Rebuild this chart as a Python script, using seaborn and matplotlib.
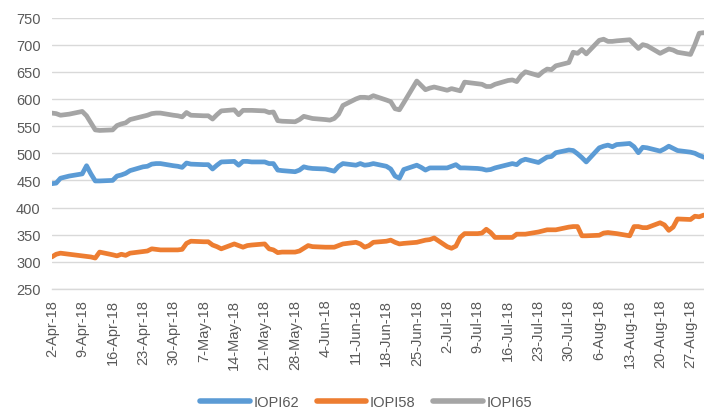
import numpy as np
import pandas as pd
import matplotlib
matplotlib.use("Agg")
import matplotlib.pyplot as plt
import matplotlib.dates as mdates
import seaborn as sns

# ---- data (business days, offset in days from 2-Apr-2018) ----
day_offsets = [0, 1, 2, 3, 4, 7, 8, 9, 10, 11, 14, 15, 16, 17, 18, 21, 22, 23, 24, 25,
               28, 29, 30, 31, 32, 35, 36, 37, 38, 39, 42, 43, 44, 45, 46, 49, 50, 51, 52, 53,
               56, 57, 58, 59, 60, 63, 64, 65, 66, 67, 70, 71, 72, 73, 74, 77, 78, 79, 80, 81,
               84, 85, 86, 87, 88, 91, 92, 93, 94, 95, 98, 99, 100, 101, 102, 105, 106, 107, 108, 109,
               112, 113, 114, 115, 116, 119, 120, 121, 122, 123, 126, 127, 128, 129, 130, 133, 134, 135, 136, 137,
               140, 141, 142, 143, 144, 147, 148, 149, 150, 151]

iopi62 = [444, 445, 454, 456, 458, 462, 477, 462, 449, 449, 450, 458, 460, 463, 468, 475, 476, 480, 481, 481,
          477, 476, 474, 482, 480, 479, 479, 471, 478, 484, 485, 478, 485, 485, 484, 484, 481, 481, 469, 468,
          466, 469, 475, 473, 472, 471, 469, 467, 476, 481, 478, 481, 478, 479, 481, 476, 471, 458, 454, 470,
          478, 474, 469, 473, 473, 473, 476, 479, 473, 473, 472, 471, 469, 470, 473, 479, 481, 479, 486, 489,
          483, 488, 493, 494, 501, 506, 505, 499, 492, 484, 510, 513, 515, 512, 516, 518, 512, 501, 511, 510,
          504, 508, 513, 509, 505, 502, 500, 496, 493, 491]

iopi58 = [309, 314, 316, 315, 314, 311, 310, 309, 307, 318, 313, 311, 314, 312, 316, 319, 320, 324, 323, 322,
          322, 322, 323, 334, 338, 337, 337, 331, 328, 324, 333, 330, 327, 330, 331, 333, 324, 322, 317, 318,
          318, 320, 325, 330, 328, 327, 327, 327, 330, 333, 336, 333, 327, 330, 336, 338, 340, 336, 333, 334,
          336, 338, 340, 341, 344, 328, 325, 329, 345, 352, 352, 353, 360, 354, 345, 345, 345, 351, 351, 351,
          355, 357, 359, 359, 359, 364, 365, 365, 348, 348, 349, 353, 354, 353, 352, 348, 365, 365, 363, 363,
          372, 368, 358, 364, 379, 378, 384, 383, 386, 386]

iopi65 = [574, 573, 570, 571, 572, 577, 569, 556, 543, 542, 543, 551, 554, 556, 562, 568, 570, 573, 574, 574,
          570, 569, 567, 575, 570, 569, 569, 563, 571, 578, 580, 571, 579, 579, 579, 578, 575, 576, 560, 559,
          558, 562, 568, 566, 564, 562, 561, 564, 572, 588, 600, 603, 603, 602, 606, 598, 595, 582, 580, 593,
          633, 625, 617, 620, 622, 616, 619, 617, 615, 631, 628, 627, 623, 623, 627, 634, 635, 632, 643, 650,
          643, 650, 655, 654, 661, 667, 686, 684, 691, 683, 708, 710, 706, 706, 707, 709, 701, 693, 700, 698,
          684, 688, 692, 690, 686, 682, 700, 721, 722, 720]

series_names = ["IOPI62", "IOPI58", "IOPI65"]
series_colors = ["#5B9BD5", "#ED7D31", "#A5A5A5"]
y_ticks = [250, 300, 350, 400, 450, 500, 550, 600, 650, 700, 750]

start = pd.Timestamp("2018-04-02")
dates = start + pd.to_timedelta(day_offsets, unit="D")

df = pd.concat([
    pd.DataFrame({"date": dates, "value": vals, "series": name})
    for name, vals in zip(series_names, [iopi62, iopi58, iopi65])
], ignore_index=True)

# ---- figure ----
sns.set_style("white")
plt.rcParams["font.family"] = ["Liberation Sans", "DejaVu Sans"]

fig = plt.figure(figsize=(7.04, 4.14), dpi=100)
ax = fig.add_axes([51.8 / 704, 1 - 290 / 414, (707.9 - 51.8) / 704, (290 - 18.5) / 414])

sns.lineplot(data=df, x="date", y="value", hue="series", hue_order=series_names,
             palette=dict(zip(series_names, series_colors)), linewidth=3.4,
             ax=ax, legend=False, solid_capstyle="round", solid_joinstyle="round")

grid_c = "#D9D9D9"
ax.set_ylim(250, 750)
ax.set_yticks(y_ticks)
ax.set_xlim(start, start + pd.Timedelta(days=151))
ax.yaxis.grid(True, color=grid_c, linewidth=1.0)
ax.set_axisbelow(True)
for s in ["top", "right", "left"]:
    ax.spines[s].set_visible(False)
ax.spines["bottom"].set_color(grid_c)
ax.spines["bottom"].set_linewidth(1.0)

ax.xaxis.set_major_locator(mdates.WeekdayLocator(byweekday=mdates.MO))
ax.xaxis.set_major_formatter(mdates.DateFormatter("%-d-%b-%y"))
ax.tick_params(axis="x", which="major", direction="out", length=4, width=1, color=grid_c,
               labelsize=10.5, labelcolor="#595959", rotation=90, pad=3)
ax.tick_params(axis="y", length=0, labelsize=10.5, labelcolor="#595959", pad=8)
for lab in ax.get_xticklabels():
    lab.set_verticalalignment("top")
ax.set_xlabel("")
ax.set_ylabel("")

handles = ax.get_lines()[:3]
leg = fig.legend(handles, series_names, loc="center", bbox_to_anchor=(366 / 704, 1 - 403 / 414),
                 ncol=3, frameon=False, handlelength=3.4, handletextpad=0.25, columnspacing=1.2,
                 fontsize=10.5)
for t in leg.get_texts():
    t.set_color("#595959")
for h in leg.legend_handles:
    h.set_linewidth(4.0)

fig.savefig("out.png", dpi=100)
